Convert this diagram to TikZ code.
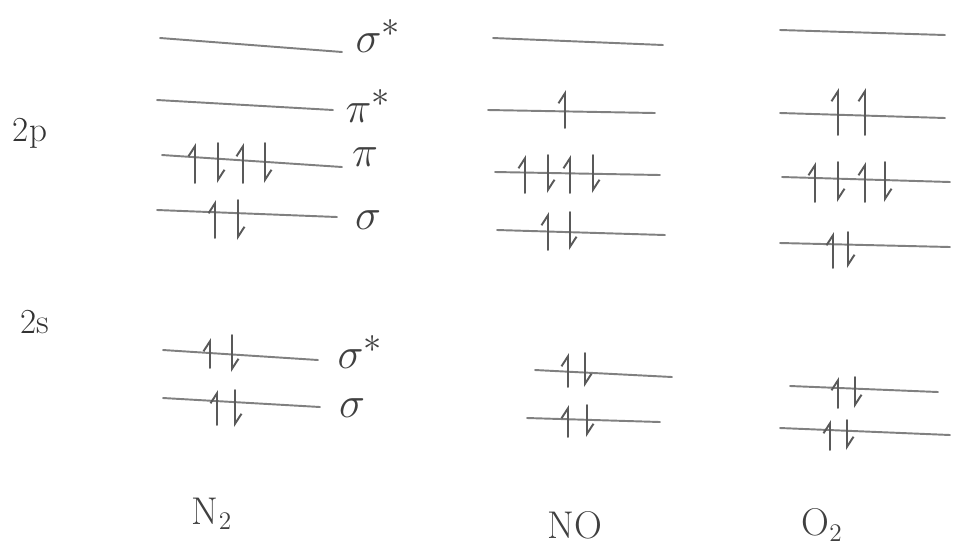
\documentclass[tikz,border=0pt]{standalone}
\usetikzlibrary{arrows.meta}
\begin{document}
\begin{tikzpicture}[
x=0.02cm,y=-0.02cm,
lvl/.style={draw=black!50,line width=1.1pt,line cap=round},
eup/.style={draw=black!65,line width=1.1pt,line cap=round,
-{Straight Barb[left,length=2mm,width=2.6mm]}},
edn/.style={draw=black!65,line width=1.1pt,line cap=round,
-{Straight Barb[left,length=2mm,width=2.6mm]}},
orb/.style={font=\fontsize{30}{36}\selectfont,text=black!75,inner sep=0pt},
shl/.style={font=\fontsize{20}{24}\selectfont,text=black!80,inner sep=0pt},
mol/.style={font=\fontsize{22}{26}\selectfont,text=black!75,inner sep=0pt}
]
\useasboundingbox (0,0) rectangle (953,549);

\node[shl] (p2) at (30,133) {2p};
\node[shl] (s2) at (35,322) {2s};

\draw[lvl] (160,38) -- (342,52);
\node[orb] (n2ssp) at (378,36) {$\sigma^*$};
\draw[lvl] (157,100) -- (333,110);
\node[orb] (n2psp) at (368,106) {$\pi^*$};
\draw[lvl] (162,155) -- (342,167);
\node[orb] (n2pi) at (365,157) {$\pi$};
\foreach \x in {195,243} \draw[eup] (\x,183) -- (\x,143);
\foreach \x in {218,265} \draw[edn] (\x,143) -- (\x,183);
\draw[lvl] (157,210) -- (337,217);
\node[orb] (n2sg) at (368,220) {$\sigma$};
\draw[eup] (215,238) -- (215,200);
\draw[edn] (238,200) -- (238,240);
\draw[lvl] (163,350) -- (318,360);
\node[orb] (n2sss) at (360,352) {$\sigma^*$};
\draw[eup] (210,368) -- (210,338);
\draw[edn] (232,335) -- (232,372);
\draw[lvl] (163,398) -- (320,407);
\node[orb] (n2sgs) at (352,408) {$\sigma$};
\draw[eup] (217,425) -- (217,390);
\draw[edn] (235,390) -- (235,427);
\node[mol] (n2) at (212,514) {N$_2$};

\draw[lvl] (493,38) -- (663,45);
\draw[lvl] (488,110) -- (655,113);
\draw[eup] (565,128) -- (565,90);
\draw[lvl] (495,172) -- (660,175);
\foreach \x in {525,570} \draw[eup] (\x,193) -- (\x,155);
\foreach \x in {548,593} \draw[edn] (\x,155) -- (\x,193);
\draw[lvl] (497,230) -- (665,235);
\draw[eup] (548,250) -- (548,212);
\draw[edn] (570,212) -- (570,250);
\draw[lvl] (535,370) -- (672,377);
\draw[eup] (568,387) -- (568,353);
\draw[edn] (585,353) -- (585,387);
\draw[lvl] (527,418) -- (660,422);
\draw[eup] (568,437) -- (568,405);
\draw[edn] (587,405) -- (587,437);
\node[mol] (no) at (575,525) {NO};

\draw[lvl] (780,30) -- (945,35);
\draw[lvl] (780,113) -- (945,118);
\foreach \x in {838,865} \draw[eup] (\x,135) -- (\x,88);
\draw[lvl] (782,177) -- (950,182);
\foreach \x in {815,865} \draw[eup] (\x,202) -- (\x,162);
\foreach \x in {838,885} \draw[edn] (\x,162) -- (\x,202);
\draw[lvl] (780,243) -- (950,247);
\draw[eup] (833,268) -- (833,232);
\draw[edn] (848,232) -- (848,268);
\draw[lvl] (790,386) -- (938,392);
\draw[eup] (838,408) -- (838,377);
\draw[edn] (855,377) -- (855,408);
\draw[lvl] (780,428) -- (950,435);
\draw[eup] (830,450) -- (830,420);
\draw[edn] (847,420) -- (847,450);
\node[mol] (o2) at (822,525) {O$_2$};
\end{tikzpicture}
\end{document}
